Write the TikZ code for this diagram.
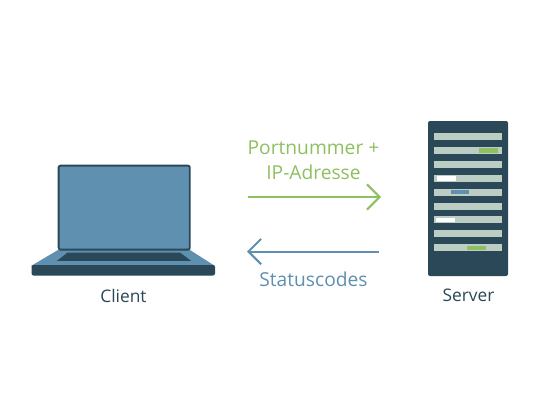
\documentclass[tikz,border=0pt]{standalone}
\usepackage{fontspec}
\setmainfont{Open Sans}
\usetikzlibrary{arrows.meta}
\definecolor{dark}{HTML}{2A4858}
\definecolor{steel}{HTML}{5F90B0}
\definecolor{leaf}{HTML}{8FC060}
\definecolor{pale}{HTML}{BCCDC3}
\tikzset{
  x=0.75pt,y=-0.75pt,
  biglabel/.style={font=\fontsize{14.4}{18.5}\selectfont,align=center,inner sep=0pt},
  smalllabel/.style={font=\fontsize{13}{14}\selectfont,text=dark,inner sep=0pt},
  flow/.style={line width=1.5pt,-{Straight Barb[length=9.5pt,width=19pt,line width=1.5pt]}},
  stripe/.style={fill=pale,draw=none},
  led/.style={draw=none}
}
\begin{document}
\begin{tikzpicture}
\useasboundingbox (0,0) rectangle (555,400);
\fill[white] (0,0) rectangle (555,400);
% laptop
\fill[steel] (58,250) -- (190,250) -- (215,266) -- (31,266) -- cycle;
\fill[dark,rounded corners=1.5pt] (31.5,265) rectangle (215,275.5);
\draw[dark,fill=steel,line width=1.4pt,rounded corners=1.5pt] (58.6,165.6) rectangle (189.8,249.6);
\fill[dark] (67.7,252.5) -- (180,252.5) -- (191,260.8) -- (57,260.8) -- cycle;
\node[smalllabel] (client) at (123.5,295.5) {Client};
% server
\fill[dark,rounded corners=1.5pt] (428,121) rectangle (508,276);
\foreach \i in {0,...,8}{
  \fill[stripe] (433.7,133.3+13.85*\i) rectangle (502,140.3+13.85*\i);
}
\fill[leaf,led] (479.3,148.3) rectangle (498,152.7);
\fill[white,led] (437.3,176) rectangle (456,180.7);
\fill[steel,led] (450.7,190) rectangle (469.3,194.3);
\fill[white,led] (436.3,217.7) rectangle (455.3,222.3);
\fill[leaf,led] (467.3,245.7) rectangle (486,250);
\node[smalllabel] (server) at (468.5,295.5) {Server};
% arrows
\coordinate (gs) at (248,197);
\coordinate (ge) at (381,197);
\coordinate (bs) at (379,251.5);
\coordinate (be) at (247,251.5);
\draw[flow,leaf] (gs) -- (ge);
\draw[flow,steel] (bs) -- (be);
\node[biglabel,text=leaf] (req) at (313.5,160) {Portnummer +\\IP-Adresse};
\node[biglabel,text=steel] (res) at (313.5,279.5) {Statuscodes};
\end{tikzpicture}
\end{document}
